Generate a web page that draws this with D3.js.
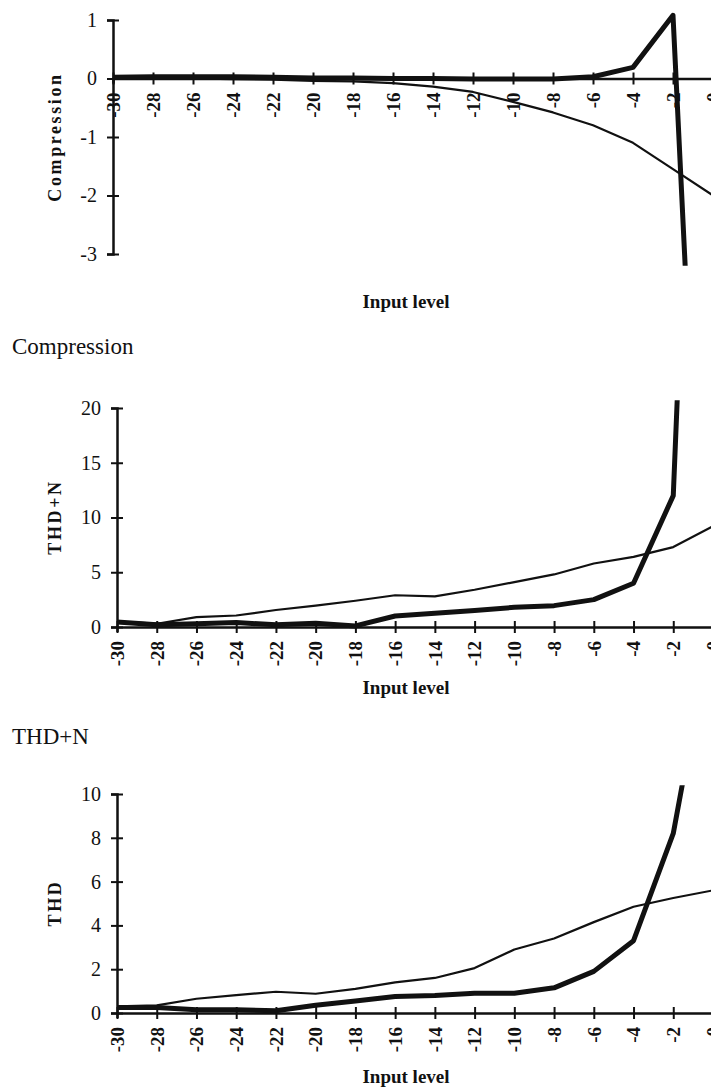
<!DOCTYPE html>
<html>
<head>
<meta charset="utf-8">
<script src="https://cdn.jsdelivr.net/npm/d3@7"></script>
<style>
  html, body { margin: 0; padding: 0; background: #fff; overflow: hidden; }
  svg { display: block; }
  text { font-family: "Liberation Serif", "Times New Roman", serif; fill: #111; }
</style>
</head>
<body>
<svg id="chart" width="711" height="1088"></svg>
<script>
// ---- Data ----
const inputLevels = [-30, -28, -26, -24, -22, -20, -18, -16, -14, -12, -10, -8, -6, -4, -2, 0];
const xTickLabels = ["-30", "-28", "-26", "-24", "-22", "-20", "-18", "-16", "-14", "-12", "-10", "-8", "-6", "-4", "-2", "0"];

const compressionThick = [0.02, 0.03, 0.03, 0.03, 0.02, 0.01, 0.01, 0.0, 0.0, -0.01, -0.01, -0.01, 0.03, 0.19, 1.08, -13];
const compressionThin  = [0, 0, 0, -0.01, -0.02, -0.04, -0.05, -0.08, -0.14, -0.23, -0.4, -0.58, -0.8, -1.1, -1.55, -2.0];
const compressionTicks = [1, 0, -1, -2, -3];

const thdnThick = [0.45, 0.2, 0.3, 0.4, 0.2, 0.35, 0.1, 1.0, 1.25, 1.5, 1.8, 1.95, 2.5, 4.0, 12.0, 100];
const thdnThin  = [0.5, 0.3, 0.9, 1.05, 1.55, 1.95, 2.4, 2.9, 2.8, 3.4, 4.1, 4.8, 5.8, 6.4, 7.3, 9.2];
const thdnTicks = [0, 5, 10, 15, 20];

const thdThick = [0.25, 0.25, 0.15, 0.15, 0.1, 0.35, 0.55, 0.75, 0.8, 0.9, 0.9, 1.15, 1.9, 3.3, 8.2, 18];
const thdThin  = [0.3, 0.35, 0.65, 0.82, 0.97, 0.88, 1.1, 1.4, 1.6, 2.05, 2.9, 3.4, 4.15, 4.85, 5.25, 5.6];
const thdTicks = [0, 2, 4, 6, 8, 10];

const captions = ["Compression", "THD+N"];
const xTitle = "Input level";

// ---- Layout ----
const svg = d3.select("#chart");

const panels = [
  { yLabel: "Compression", thick: compressionThick, thin: compressionThin, ticks: compressionTicks,
    yDomain: [-3, 1], yRange: [254, 20], xLeft: 113, clip: [1.25, -3.2], xTitleY: 308, yLabelY: 137 },
  { yLabel: "THD+N", thick: thdnThick, thin: thdnThin, ticks: thdnTicks,
    yDomain: [0, 20], yRange: [627, 408], xLeft: 117, clip: [20.7, -1], xTitleY: 694, yLabelY: 517 },
  { yLabel: "THD", thick: thdThick, thin: thdThin, ticks: thdTicks,
    yDomain: [0, 10], yRange: [1013, 794], xLeft: 117, clip: [10.4, -1], xTitleY: 1083, yLabelY: 903 }
];

panels.forEach((p, i) => {
  const x = d3.scaleLinear().domain([-30, 0]).range([p.xLeft, 713]);
  const y = d3.scaleLinear().domain(p.yDomain).range(p.yRange);
  const g = svg.append("g");

  // clip for series
  const clipId = "clip" + i;
  svg.append("clipPath").attr("id", clipId).append("rect")
    .attr("x", x(-30)).attr("width", x(0) - x(-30) + 5)
    .attr("y", y(p.clip[0])).attr("height", y(p.clip[1]) - y(p.clip[0]));

  // y axis
  const yAxis = d3.axisLeft(y).tickValues(p.ticks).tickFormat(d => String(d)).tickSizeOuter(0).tickSize(6).tickPadding(10);
  const ya = g.append("g").attr("transform", `translate(${x(-30)},0)`).call(yAxis);
  ya.select(".domain").attr("stroke", "#111").attr("stroke-width", 2.5);
  ya.selectAll(".tick line").attr("x1", -6).attr("x2", 6).attr("stroke", "#111").attr("stroke-width", 2);
  ya.selectAll(".tick text").style("font-size", "20px").style("font-family", "Liberation Serif, serif").attr("fill", "#111");

  // x axis at y = 0
  const xAxis = d3.axisBottom(x).tickValues(inputLevels).tickFormat((d, k) => xTickLabels[k]).tickSizeOuter(0).tickSize(5);
  const xa = g.append("g").attr("transform", `translate(0,${y(0)})`).call(xAxis);
  xa.select(".domain").attr("stroke", "#111").attr("stroke-width", 2.5);
  xa.selectAll(".tick line").attr("y1", -6).attr("y2", 6).attr("stroke", "#111").attr("stroke-width", 2);
  xa.selectAll(".tick text")
    .attr("transform", "rotate(-90)")
    .attr("x", -14).attr("y", 0).attr("dy", "0.33em")
    .attr("text-anchor", "end")
    .style("font-size", "19px").style("font-weight", "bold")
    .style("font-family", "Liberation Serif, serif").attr("fill", "#111");

  // lines
  const line = d3.line().x((d, k) => x(inputLevels[k])).y(d => y(d));
  const lg = g.append("g").attr("clip-path", `url(#${clipId})`);
  lg.append("path").datum(p.thin).attr("d", line)
    .attr("fill", "none").attr("stroke", "#111").attr("stroke-width", 2.2).attr("stroke-linejoin", "round");
  lg.append("path").datum(p.thick).attr("d", line)
    .attr("fill", "none").attr("stroke", "#111").attr("stroke-width", 5).attr("stroke-linejoin", "round");

  // y label
  g.append("text")
    .attr("transform", `translate(61,${p.yLabelY}) rotate(-90)`)
    .attr("text-anchor", "middle")
    .style("font-size", "18px").style("font-weight", "bold").style("letter-spacing", "2.6px")
    .text(p.yLabel);

  // x title
  g.append("text")
    .attr("x", 406).attr("y", p.xTitleY)
    .attr("text-anchor", "middle")
    .style("font-size", "19px").style("font-weight", "bold")
    .text(xTitle);
});

// captions below top two panels
const capY = [354, 744];
captions.forEach((c, i) => {
  svg.append("text").attr("x", 12).attr("y", capY[i])
    .style("font-size", "23px").text(c);
});
</script>
</body>
</html>
